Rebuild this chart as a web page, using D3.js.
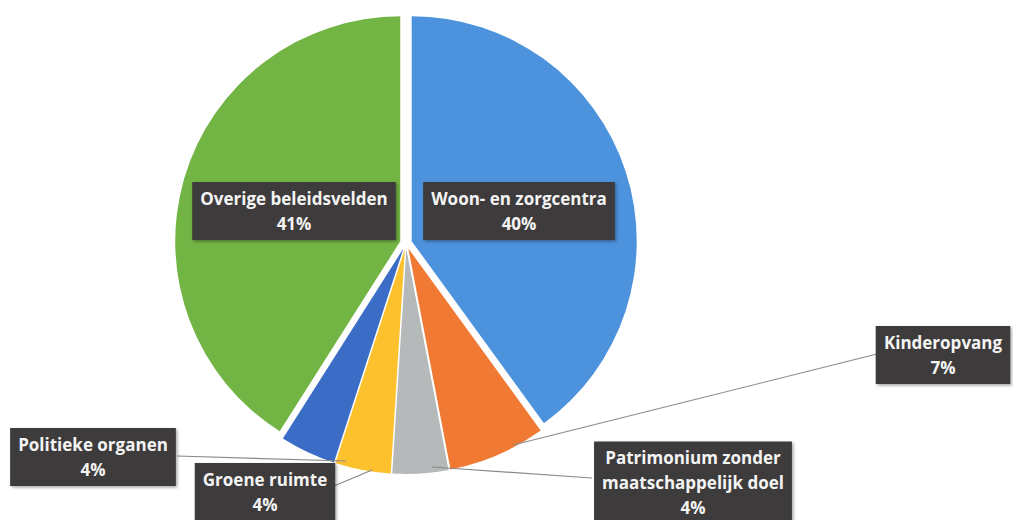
<!DOCTYPE html>
<html>
<head>
<meta charset="utf-8">
<script src="https://cdn.jsdelivr.net/npm/d3@7"></script>
<style>
  body { margin: 0; background: #fff; }
  svg { display: block; }
</style>
</head>
<body>
<div id="Pie"></div>
<script>
// data, clockwise from 12 o'clock
var categories = ["Woon- en zorgcentra", "Kinderopvang", "Patrimonium zonder maatschappelijk doel",
                  "Groene ruimte", "Politieke organen", "Overige beleidsvelden"];
var values = [40, 7, 4, 4, 4, 41];
var labelLines = [["Woon- en zorgcentra"], ["Kinderopvang"], ["Patrimonium zonder", "maatschappelijk doel"],
                  ["Groene ruimte"], ["Politieke organen"], ["Overige beleidsvelden"]];
var colors = ["#4d92dc", "#f07a33", "#b5b9b9", "#fcc12c", "#3b6dc6", "#72b545"];

var width = 1013, height = 520;
var cx = 406, cy = 243, radius = 225, explode = 6;

// label box centers and leader lines (null = label sits inside slice)
var labelPos = [[519, 211], [943, 355], [693, 483], [265, 492], [93, 457], [294, 211]];
var leaders = [null, [[513, 445], [877, 354]], [[432, 467], [592, 478]],
               [[372, 470], [334, 486]], [[346, 461], [177, 456]], null];

var svg = d3.select("#Pie")
            .append("svg")
            .attr("width", width)
            .attr("height", height);

var defs = svg.append("defs");
var shadow = defs.append("filter").attr("id", "shadow")
    .attr("x", "-10%").attr("y", "-10%").attr("width", "125%").attr("height", "130%");
shadow.append("feDropShadow")
    .attr("dx", 1.5).attr("dy", 1.5).attr("stdDeviation", 1.5)
    .attr("flood-color", "#000").attr("flood-opacity", 0.35);

var pie = d3.pie().sort(null).value(function(d) { return d; });
var arcs = pie(values);

var arc = d3.arc().innerRadius(0).outerRadius(radius);

var g = svg.append("g").attr("transform", "translate(" + cx + "," + cy + ")");

g.selectAll("path")
    .data(arcs)
    .enter().append("path")
      .attr("d", arc)
      .attr("fill", function(d, i) { return colors[i]; })
      .attr("transform", function(d) {
        var a = (d.startAngle + d.endAngle) / 2;
        return "translate(" + (Math.sin(a) * explode) + "," + (-Math.cos(a) * explode) + ")";
      });

// leader lines
svg.append("g")
  .selectAll("line")
  .data(leaders.filter(function(l) { return l; }))
  .enter().append("line")
    .attr("x1", function(d) { return d[0][0]; })
    .attr("y1", function(d) { return d[0][1]; })
    .attr("x2", function(d) { return d[1][0]; })
    .attr("y2", function(d) { return d[1][1]; })
    .attr("stroke", "#8a8a8a")
    .attr("stroke-width", 1.2);

// labels
var lineH = 25;
var labels = svg.append("g")
    .attr("font-family", "'Open Sans', sans-serif")
    .attr("font-weight", "bold")
    .attr("font-size", "17px")
    .attr("text-anchor", "middle")
  .selectAll("g")
  .data(arcs)
  .enter().append("g")
    .attr("transform", function(d, i) { return "translate(" + labelPos[i][0] + "," + labelPos[i][1] + ")"; });

labels.each(function(d, i) {
  var lab = d3.select(this);
  var lines = labelLines[i].concat([d.value + "%"]);
  var h = lines.length * lineH + 8;
  var rect = lab.append("rect").attr("fill", "#3c3a3a").attr("filter", "url(#shadow)");
  var t = lab.append("text").attr("fill", "#f4f4f4");
  lines.forEach(function(s, k) {
    t.append("tspan")
      .attr("x", 0)
      .attr("y", -h / 2 + 4 + k * lineH + lineH / 2)
      .attr("dy", "0.36em")
      .text(s);
  });
  var w = t.node().getBBox().width + 16;
  rect.attr("x", -w / 2).attr("y", -h / 2).attr("width", w).attr("height", h);
});
</script>
</body>
</html>
